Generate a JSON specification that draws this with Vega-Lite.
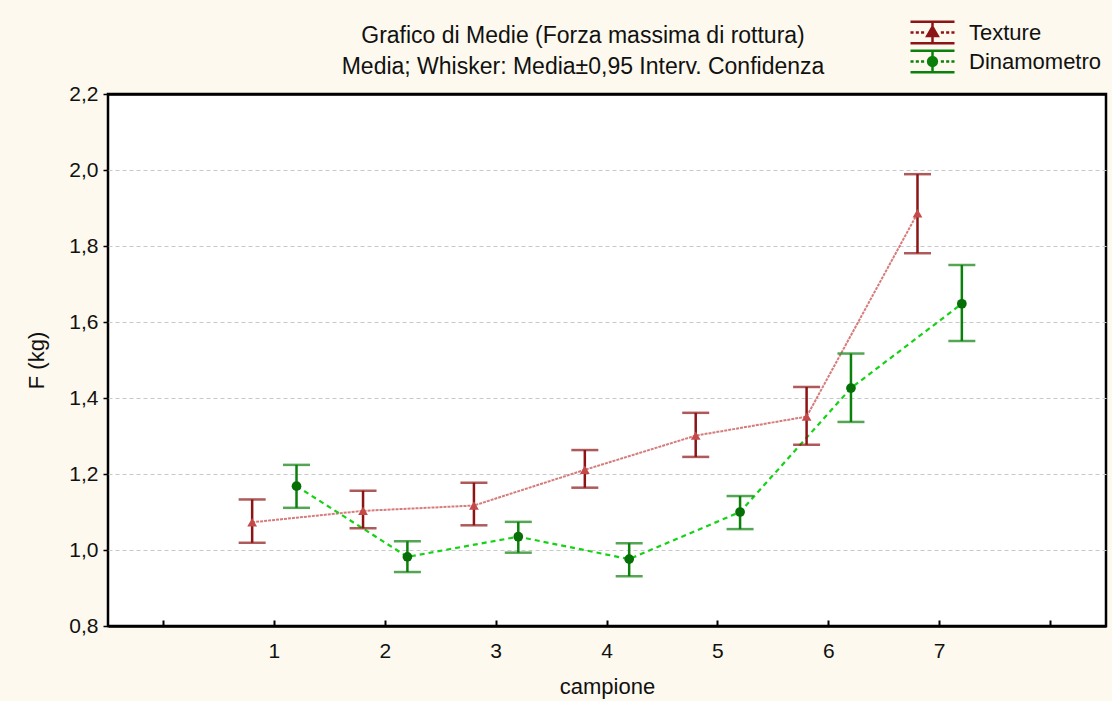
{
  "$schema": "https://vega.github.io/schema/vega-lite/v6.json",
  "autosize": {"type": "none"},
  "padding": {"left": 108, "top": 94, "right": 6, "bottom": 75},
  "width": 998,
  "height": 532,
  "background": "#fdf9ee",
  "title": {
    "text": ["Grafico di Medie (Forza massima di rottura)", "Media; Whisker: Media±0,95 Interv. Confidenza"],
    "font": "Liberation Sans",
    "fontSize": 23,
    "fontWeight": "normal",
    "color": "#111111",
    "lineHeight": 31,
    "anchor": "middle",
    "frame": "group",
    "dx": -24,
    "dy": 59,
    "offset": 0
  },
  "data": {
    "values": [
      {"campione": 1, "serie": "Texture", "media": 1.073, "lo": 1.019, "hi": 1.133},
      {"campione": 2, "serie": "Texture", "media": 1.103, "lo": 1.057, "hi": 1.156},
      {"campione": 3, "serie": "Texture", "media": 1.117, "lo": 1.065, "hi": 1.177},
      {"campione": 4, "serie": "Texture", "media": 1.211, "lo": 1.164, "hi": 1.263},
      {"campione": 5, "serie": "Texture", "media": 1.301, "lo": 1.245, "hi": 1.361},
      {"campione": 6, "serie": "Texture", "media": 1.351, "lo": 1.277, "hi": 1.429},
      {"campione": 7, "serie": "Texture", "media": 1.886, "lo": 1.781, "hi": 1.989},
      {"campione": 1, "serie": "Dinamometro", "media": 1.168, "lo": 1.111, "hi": 1.224},
      {"campione": 2, "serie": "Dinamometro", "media": 0.982, "lo": 0.942, "hi": 1.023},
      {"campione": 3, "serie": "Dinamometro", "media": 1.035, "lo": 0.993, "hi": 1.074},
      {"campione": 4, "serie": "Dinamometro", "media": 0.976, "lo": 0.931, "hi": 1.018},
      {"campione": 5, "serie": "Dinamometro", "media": 1.100, "lo": 1.055, "hi": 1.142},
      {"campione": 6, "serie": "Dinamometro", "media": 1.426, "lo": 1.337, "hi": 1.517},
      {"campione": 7, "serie": "Dinamometro", "media": 1.648, "lo": 1.550, "hi": 1.750}
    ]
  },
  "encoding": {
    "x": {
      "field": "campione",
      "type": "ordinal",
      "scale": {"type": "band", "domain": [0, 1, 2, 3, 4, 5, 6, 7, 8], "paddingInner": 0, "paddingOuter": 0},
      "axis": {
        "title": "campione",
        "labelAngle": 0,
        "labelExpr": "datum.value == 0 || datum.value == 8 ? '' : datum.label",
        "domain": false,
        "ticks": true,
        "tickSize": -6,
        "tickColor": "black",
        "tickWidth": 2,
        "labelPadding": 20,
        "titlePadding": 15
      }
    },
    "xOffset": {
      "field": "serie",
      "type": "nominal",
      "scale": {"domain": ["Texture", "Dinamometro"], "paddingInner": 0, "paddingOuter": 0.25}
    },
    "y": {
      "field": "media",
      "type": "quantitative",
      "scale": {"domain": [0.8, 2.2], "nice": false, "zero": false},
      "axis": {
        "title": "F (kg)",
        "values": [0.8, 1.0, 1.2, 1.4, 1.6, 1.8, 2.0, 2.2],
        "labelExpr": "replace(format(datum.value, '.1f'), '.', ',')",
        "domain": false,
        "grid": true,
        "gridColor": {"condition": {"test": "datum.value < 0.85 || datum.value > 2.15", "value": "black"}, "value": "#c8c8c8"},
        "gridDash": {"condition": {"test": "datum.value < 0.85 || datum.value > 2.15", "value": []}, "value": [4, 3]},
        "gridWidth": {"condition": {"test": "datum.value < 0.85 || datum.value > 2.15", "value": 2.5}, "value": 1},
        "tickSize": 5,
        "tickColor": "black",
        "tickWidth": 1.5,
        "labelPadding": 5,
        "titlePadding": 20
      }
    }
  },
  "layer": [
    {
      "mark": {"type": "point", "filled": true, "size": 0, "strokeWidth": 0, "opacity": 1},
      "encoding": {
        "shape": {
          "field": "serie",
          "type": "nominal",
          "scale": {
            "domain": ["Texture", "Dinamometro"],
            "range": [
              "M-2,-0.98H2M0,-0.98V0.98M-2,0.98H2M-2,0H-1.72M-1.52,0H-1.24M-1.04,0H-0.76M0.76,0H1.04M1.24,0H1.52M1.72,0H2M0,-0.52L0.48,0.32L-0.48,0.32Z",
              "M-2,-0.98H2M0,-0.98V0.98M-2,0.98H2M-2,0H-1.72M-1.52,0H-1.24M-1.04,0H-0.76M0.76,0H1.04M1.24,0H1.52M1.72,0H2M-0.4,0A0.4,0.4 0 1,0 0.4,0A0.4,0.4 0 1,0 -0.4,0Z"
            ]
          },
          "legend": {
            "title": null,
            "orient": "none",
            "legendX": 812,
            "legendY": -74,
            "symbolSize": 484,
            "symbolStrokeWidth": 2.5,
            "symbolOpacity": 1,
            "labelOffset": 24,
            "labelFont": "Liberation Sans",
            "labelFontSize": 22,
            "labelColor": "#111111",
            "rowPadding": -8,
            "encode": {
              "symbols": {
                "update": {
                  "stroke": {"scale": "color", "field": "value"},
                  "fill": {"scale": "color", "field": "value"},
                  "size": {"value": 484},
                  "strokeWidth": {"value": 2.5}
                }
              }
            }
          }
        },
        "color": {
          "field": "serie",
          "type": "nominal",
          "scale": {"domain": ["Texture", "Dinamometro"], "range": ["#8c1414", "#0b800b"]},
          "legend": {
            "title": null,
            "orient": "none",
            "legendX": 812,
            "legendY": -74,
            "symbolSize": 484,
            "symbolStrokeWidth": 2.5,
            "symbolOpacity": 1,
            "labelOffset": 24,
            "labelFont": "Liberation Sans",
            "labelFontSize": 22,
            "labelColor": "#111111",
            "rowPadding": -8
          }
        }
      }
    },
    {
      "transform": [{"filter": "datum.serie == 'Texture'"}],
      "mark": {"type": "line", "strokeWidth": 2, "color": "#d67c7c", "strokeDash": [3, 1]}
    },
    {
      "transform": [{"filter": "datum.serie == 'Dinamometro'"}],
      "mark": {"type": "line", "strokeWidth": 2.2, "color": "#14d214", "strokeDash": [5, 4]}
    },
    {
      "mark": {"type": "rule", "strokeWidth": 2.5},
      "encoding": {
        "y": {"field": "lo", "type": "quantitative"},
        "y2": {"field": "hi"},
        "color": {"field": "serie", "type": "nominal", "legend": null}
      }
    },
    {
      "mark": {"type": "tick", "orient": "horizontal", "size": 27, "thickness": 2.5},
      "encoding": {
        "y": {"field": "lo", "type": "quantitative"},
        "color": {"field": "serie", "type": "nominal", "legend": null}
      }
    },
    {
      "mark": {"type": "tick", "orient": "horizontal", "size": 27, "thickness": 2.5},
      "encoding": {
        "y": {"field": "hi", "type": "quantitative"},
        "color": {"field": "serie", "type": "nominal", "legend": null}
      }
    },
    {
      "transform": [{"filter": "datum.serie == 'Texture'"}],
      "mark": {"type": "point", "filled": true, "size": 95, "opacity": 1, "shape": "triangle-up", "color": "#c44a4a"}
    },
    {
      "transform": [{"filter": "datum.serie == 'Dinamometro'"}],
      "mark": {"type": "point", "filled": true, "size": 95, "opacity": 1, "shape": "circle", "color": "#067006"}
    }
  ],
  "config": {
    "view": {"fill": "white", "stroke": "black", "strokeWidth": 2.5},
    "axis": {
      "labelFont": "Liberation Sans",
      "labelFontSize": 21,
      "labelColor": "#111111",
      "titleFont": "Liberation Sans",
      "titleFontSize": 22,
      "titleFontWeight": "normal",
      "titleColor": "#111111"
    }
  }
}
